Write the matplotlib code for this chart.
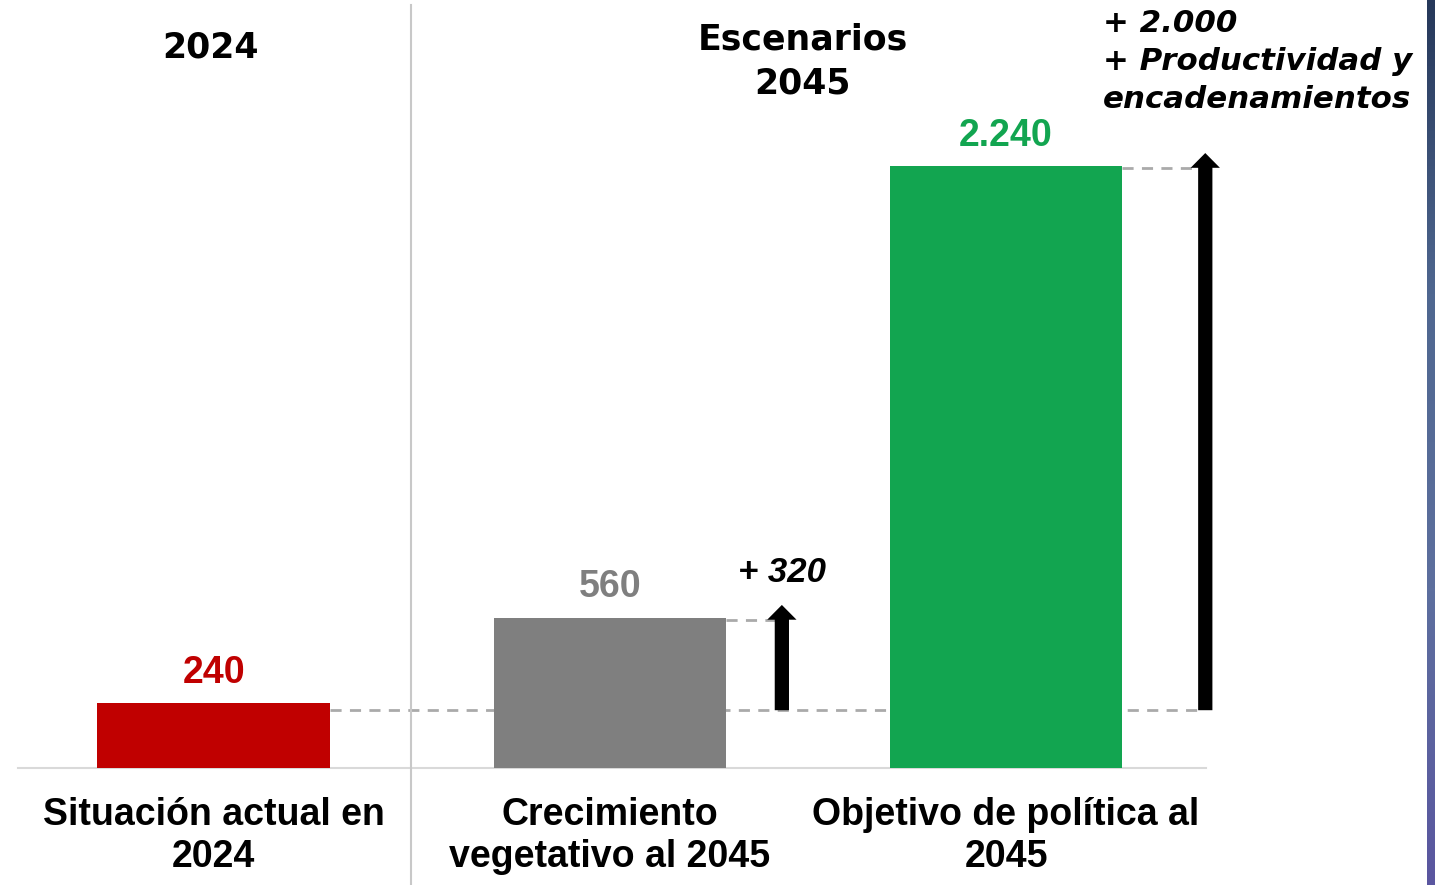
import matplotlib
matplotlib.use("Agg")
import matplotlib.pyplot as plt
from matplotlib.patches import FancyArrow
from matplotlib.colors import LinearSegmentedColormap
import numpy as np

# datos
categorias = ["Situación actual en\n2024", "Crecimiento\nvegetativo al 2045", "Objetivo de política al\n2045"]
valores = [240, 560, 2240]
etiquetas = ["240", "560", "2.240"]
colores = ["#C00000", "#7F7F7F", "#12A550"]
incrementos = ["+ 320", "+ 2.000\n+ Productividad y\nencadenamientos"]

fig = plt.figure(figsize=(14.35, 8.85), dpi=100)
ax = fig.add_axes([0, 0, 1, 1])
ax.set_xlim(-0.540, 3.083)
ax.set_ylim(-436, 2860)
ax.axis("off")

x = np.arange(len(valores))
ancho = 0.588
ax.bar(x, valores, width=ancho, color=colores, zorder=3)

# valores sobre barras
for xi, v, t, c in zip(x, valores, etiquetas, colores):
    ax.text(xi, v + 45, t, ha="center", va="bottom", color=c, fontsize=27,
            fontweight="bold", family="Liberation Sans")

# categorias
for xi, c in zip(x, categorias):
    ax.text(xi, -108, c, ha="center", va="top", color="black", fontsize=27,
            fontweight="bold", family="Liberation Sans", linespacing=1.2)

# linea base y separador
ax.plot([-0.495, 2.505], [0, 0], color="#D9D9D9", lw=1.5, zorder=2)
ax.plot([0.497, 0.497], [-436, 2840], color="#C8C8C8", lw=1.5, zorder=2)

# lineas punteadas
base = valores[0] - 25
dash = dict(color="#AAAAAA", lw=2, ls=(0, (4, 3)), zorder=1)
ax.plot([x[0] + ancho / 2, 2.50], [base, base], **dash)
ax.plot([x[1] + ancho / 2, 1.43], [valores[1] - 10, valores[1] - 10], **dash)
ax.plot([x[2] + ancho / 2, 2.48], [valores[2] - 5, valores[2] - 5], **dash)

# flechas
def flecha(xc, y0, y1):
    ax.add_patch(FancyArrow(xc, y0, 0, y1 - y0, width=0.036, head_width=0.074,
                            head_length=55, length_includes_head=True,
                            color="black", lw=0, zorder=4))

flecha(1.434, base, 607)
flecha(2.503, base, 2290)

ax.text(1.434, 665, incrementos[0], ha="center", va="bottom", fontsize=25,
        fontweight="bold", style="italic", family="Liberation Sans")
ax.text(2.245, 2828, incrementos[1], ha="left", va="top", fontsize=22.2,
        fontweight="bold", style="italic", family="DejaVu Sans", linespacing=1.4)

# encabezados
ax.text(-0.008, 2682, "2024", ha="center", va="center", fontsize=25,
        fontweight="bold", family="DejaVu Sans")
ax.text(1.487, 2632, "Escenarios\n2045", ha="center", va="center", fontsize=25,
        fontweight="bold", family="DejaVu Sans", linespacing=1.38)

# franja lateral derecha
ax2 = fig.add_axes([1427 / 1435, 0, 8 / 1435, 1])
grad = np.linspace(0, 1, 256).reshape(-1, 1)
cmap = LinearSegmentedColormap.from_list("f", ["#26385a", "#4f6790", "#5d6f9e", "#5a56a0"])
ax2.imshow(grad, aspect="auto", cmap=cmap)
ax2.axis("off")

fig.savefig("out.png", dpi=100)
